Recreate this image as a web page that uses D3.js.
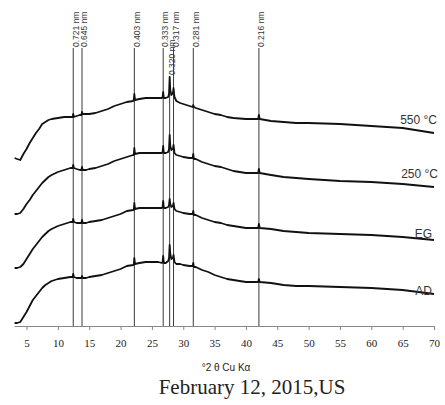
<!DOCTYPE html>
<html>
<head>
<meta charset="utf-8">
<script src="https://cdn.jsdelivr.net/npm/d3@7"></script>
<style>
  html, body { margin: 0; padding: 0; background: #fff; }
  svg { display: block; }
</style>
</head>
<body>
<svg id="chart" width="445" height="405"></svg>
<script>
// XRD patterns (°2θ, Cu Kα), traces stacked with a vertical offset
const twoTheta = [3.1, 3.5, 4.0, 4.5, 5.0, 5.5, 6.0, 6.5, 7.0, 7.5, 8.0, 8.5, 9.0, 10, 11, 12,
  12.35, 12.45, 12.55, 13, 13.5, 13.75, 13.85, 13.95, 14.5, 15, 16, 17, 18, 19, 20, 21, 22,
  22.1, 22.2, 22.3, 23, 24, 25, 26, 26.6, 26.7, 26.8, 26.9, 27.2, 27.6, 27.73, 27.83, 27.93,
  28.1, 28.35, 28.45, 28.6, 28.9, 29.5, 30, 31, 31.5, 31.6, 31.7, 32, 33, 34, 35, 36, 37, 38,
  40, 41.95, 42.07, 42.2, 44, 46, 48, 50, 55, 60, 65, 70];

const series550 = [168, 167, 166, 172, 177, 183, 188, 193, 197, 202, 204, 206, 207, 208, 209, 209,
  209, 212, 209, 210, 211, 211, 214, 212, 212, 212, 213, 215, 217, 220, 222, 224, 225,
  226, 232, 226, 227, 228, 228, 228, 228, 229, 234, 228, 228, 229, 232, 249, 236,
  231, 233, 238, 229, 225, 223, 222, 220, 219, 221, 219, 218, 216, 214, 212, 211, 209, 208,
  207, 207, 211, 207, 205, 204, 203, 203, 202, 200, 198, 193];

const series250 = [112, 112, 113, 117, 122, 126, 131, 135, 139, 143, 146, 149, 151, 154, 156, 158,
  158, 161, 158, 157, 156, 156, 159, 156, 156, 157, 158, 160, 162, 165, 167, 169, 171,
  171, 178, 172, 173, 173, 173, 173, 173, 174, 180, 173, 173, 174, 177, 191, 180,
  176, 177, 181, 173, 171, 170, 169, 168, 168, 172, 167, 167, 164, 162, 160, 159, 157, 155,
  153, 153, 157, 153, 151, 149, 148, 147, 145, 144, 142, 139];

const seriesEG = [58, 58, 59, 62, 67, 72, 77, 81, 85, 89, 92, 95, 97, 100, 102, 104,
  104, 107, 104, 103, 103, 103, 106, 103, 103, 104, 105, 106, 108, 110, 112, 115, 116,
  116, 123, 117, 118, 118, 118, 118, 118, 119, 125, 118, 118, 119, 121, 127, 122,
  119, 120, 123, 117, 115, 114, 113, 112, 112, 115, 111, 111, 108, 106, 104, 103, 101, 100,
  98, 98, 102, 98, 97, 95, 94, 93, 92, 91, 89, 86];

const seriesAD = [3, 3, 4, 9, 14, 20, 26, 30, 34, 38, 41, 43, 45, 47, 48, 49,
  49, 52, 49, 48, 48, 48, 50, 48, 48, 49, 50, 51, 53, 55, 57, 60, 61,
  61, 68, 62, 63, 64, 64, 64, 63, 64, 70, 63, 63, 65, 68, 81, 72,
  67, 68, 71, 64, 62, 62, 61, 60, 60, 63, 59, 59, 56, 54, 51, 49, 47, 46,
  44, 44, 47, 44, 43, 41, 40, 40, 39, 38, 36, 32];

const seriesNames = ["550 °C", "250 °C", "EG", "AD"];

// reflections marked with vertical lines
const peakTwoTheta = [12.45, 13.85, 22.2, 26.8, 27.83, 28.45, 31.6, 42.07];
const peakLabels = ["0.721 nm", "0.645 nm", "0.403 nm", "0.333 nm", "0.320 nm", "0.317 nm", "0.281 nm", "0.216 nm"];

const xTicks = [5, 10, 15, 20, 25, 30, 35, 40, 45, 50, 55, 60, 65, 70];

const svg = d3.select("#chart");
const x = d3.scaleLinear().domain([3, 70]).range([14, 434]);
const y = d3.scaleLinear().domain([0, 316]).range([326, 10]);

// vertical reference lines and their d-spacing labels
const peakG = svg.append("g");
peakTwoTheta.forEach((t, i) => {
  const top = peakLabels[i] === "0.320 nm" ? 76 : 48;
  peakG.append("line")
    .attr("x1", x(t)).attr("x2", x(t))
    .attr("y1", top).attr("y2", y(0))
    .attr("stroke", "#3a3a3a").attr("stroke-width", 1);
  peakG.append("text")
    .attr("transform", `translate(${x(t) + 5.3},${top - 1}) rotate(-90)`)
    .attr("font-family", "Liberation Sans, Arial, sans-serif")
    .attr("font-size", 8.5)
    .attr("fill", "#333")
    .text(peakLabels[i]);
});

// diffraction traces
const line = d3.line().x(d => x(d[0])).y(d => y(d[1]));
const allSeries = [series550, series250, seriesEG, seriesAD];
allSeries.forEach(vals => {
  svg.append("path")
    .datum(twoTheta.map((t, i) => [t, vals[i]]))
    .attr("fill", "none")
    .attr("stroke", "#111")
    .attr("stroke-width", 1.8)
    .attr("stroke-linejoin", "round")
    .attr("d", line);
});

// trace names at the right end
const labelEnd = [437, 438, 432, 432];
const labelVal = [series550, series250, seriesEG, seriesAD].map(v => v[v.length - 1]);
const labelLift = [9.5, 9.5, 2.5, -0.5];
seriesNames.forEach((n, i) => {
  svg.append("text")
    .attr("x", labelEnd[i])
    .attr("y", y(labelVal[i] + labelLift[i]))
    .attr("text-anchor", "end")
    .attr("font-family", "Liberation Sans, Arial, sans-serif")
    .attr("font-size", 12)
    .attr("fill", "#333")
    .text(n);
});

// x axis
const axis = svg.append("g")
  .attr("transform", `translate(0,${y(0)})`)
  .call(d3.axisBottom(x).tickValues(xTicks).tickSizeInner(4).tickSizeOuter(0));
axis.select(".domain").attr("stroke", "#888");
axis.selectAll(".tick line").attr("stroke", "#888");
axis.selectAll(".tick text")
  .attr("y", 21).attr("dy", null)
  .attr("font-family", "Liberation Serif, Times New Roman, serif")
  .attr("font-size", 11)
  .attr("fill", "#222");

// axis title
svg.append("text")
  .attr("x", 226).attr("y", 370.5)
  .attr("text-anchor", "middle")
  .attr("font-family", "Liberation Sans, Arial, sans-serif")
  .attr("font-size", 10)
  .attr("fill", "#222")
  .text("°2 θ Cu Kα");

// date line
svg.append("text")
  .attr("x", 252).attr("y", 394)
  .attr("text-anchor", "middle")
  .attr("font-family", "Liberation Serif, Times New Roman, serif")
  .attr("font-size", 21)
  .attr("fill", "#222")
  .text("February 12, 2015,US");
</script>
</body>
</html>
